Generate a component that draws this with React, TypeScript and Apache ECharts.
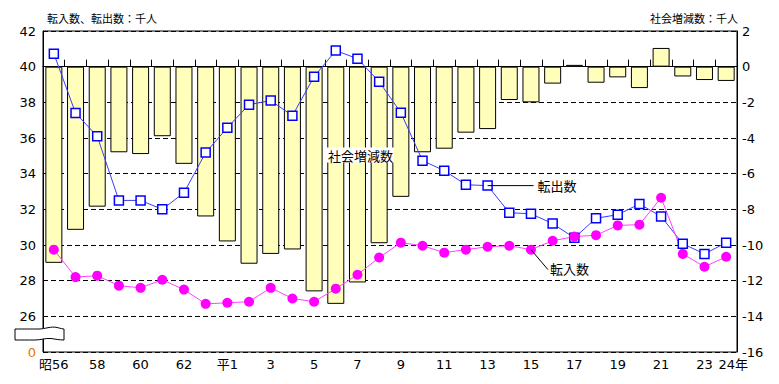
import React, { useEffect, useRef } from 'react';
import * as echarts from 'echarts';

// 年次（昭和56年〜平成24年）
const categories = [
  '昭56', '57', '58', '59', '60', '61', '62', '63',
  '平1', '2', '3', '4', '5', '6', '7', '8', '9', '10', '11', '12', '13', '14', '15', '16',
  '17', '18', '19', '20', '21', '22', '23', '24',
];
const lastLabelSuffix = '年';

// 社会増減数（千人）
const socialChange = [
  -11.0, -9.15, -7.85, -4.8, -4.9, -3.9, -5.45, -8.4,
  -9.8, -11.05, -10.5, -10.25, -12.6, -13.3, -12.1, -9.9, -7.3, -4.8, -4.6, -3.7, -3.5, -1.87, -2.0, -0.95,
  0.1, -0.9, -0.6, -1.2, 1.05, -0.55, -0.75, -0.8,
];
// 転出数（千人）
const moveOut = [
  40.73, 37.4, 36.1, 32.5, 32.5, 32.0, 32.93, 35.18,
  36.58, 37.87, 38.1, 37.25, 39.44, 40.9, 40.45, 39.16, 37.42, 34.73, 34.17, 33.38, 33.33, 31.81, 31.75, 31.2,
  30.4, 31.5, 31.7, 32.3, 31.6, 30.07, 29.5, 30.13,
];
// 転入数（千人）
const moveIn = [
  29.74, 28.2, 28.28, 27.72, 27.6, 28.05, 27.5, 26.7,
  26.76, 26.82, 27.6, 27.0, 26.82, 27.55, 28.33, 29.3, 30.13, 29.96, 29.57, 29.74, 29.9, 29.96, 29.74, 30.24,
  30.47, 30.55, 31.1, 31.14, 32.65, 29.5, 28.78, 29.34,
];

// 左軸（転入・転出）: 24 は省略記号の下で「0」と表示
const leftMin = 24;
const leftMax = 42;
const leftBreakLabel = '0';
// 右軸（社会増減）
const rightMin = -16;
const rightMax = 2;
const axisStep = 2;

const titleLeft = '転入数、転出数：千人';
const titleRight = '社会増減数：千人';
const noteSocial = '社会増減数';
const noteOut = '転出数';
const noteIn = '転入数';
const noteOutIndex = 20;
const noteInIndex = 22;

const NUM_FONT = '"DejaVu Sans", "Noto Sans CJK JP", sans-serif';
const JP_FONT = '"Noto Sans CJK JP", "DejaVu Sans", sans-serif';

echarts.graphic.registerShape(
  'axisBreak',
  (echarts.graphic as any).extendPath(
    'M0 3 C10 3 16 3 24 3 C30 3 36 0 42 1.5 C46 2.5 48 3 49 3 L49 14 C44 14 40 13 36 12.5 C30 12 26 14 20 14 C12 14 6 14 0 14 Z',
    {}
  )
);

export default function App() {
  const ref = useRef<HTMLDivElement>(null);

  useEffect(() => {
    if (!ref.current) return;
    const chart = echarts.init(ref.current, null, { renderer: 'svg' });
    const last = categories.length - 1;

    const option: any = {
      animation: false,
      backgroundColor: '#ffffff',
      grid: {
        left: 43,
        right: 42,
        top: 31,
        bottom: 32,
        show: true,
        borderColor: '#000',
        borderWidth: 1,
        backgroundColor: 'transparent',
      },
      xAxis: {
        type: 'category',
        data: categories,
        boundaryGap: true,
        axisLine: { lineStyle: { color: '#000', width: 1 } },
        axisTick: { show: true, inside: true, length: 7, interval: 0, lineStyle: { color: '#000' } },
        axisLabel: {
          interval: (i: number) => i % 2 === 0 || i === last,
          formatter: (v: string, i: number) => (i === last ? `{y|${v}${lastLabelSuffix}}` : v),
          rich: { y: { padding: [0, 0, 0, 14], fontSize: 13, fontFamily: NUM_FONT, color: '#000' } },
          color: '#000',
          fontSize: 13,
          fontFamily: NUM_FONT,
          margin: 6,
        },
      },
      yAxis: [
        {
          type: 'value',
          position: 'left',
          min: leftMin,
          max: leftMax,
          interval: axisStep,
          axisLine: { show: true, lineStyle: { color: '#000' } },
          axisTick: { show: false },
          splitLine: { show: false },
          axisLabel: {
            margin: 7,
            color: '#000',
            fontSize: 13,
            fontFamily: NUM_FONT,
            formatter: (v: number) => (v === leftMin ? `{o|${leftBreakLabel}}` : String(v)),
            rich: { o: { color: '#e07800', fontSize: 13, fontFamily: NUM_FONT } },
          },
        },
        {
          type: 'value',
          position: 'right',
          min: rightMin,
          max: rightMax,
          interval: axisStep,
          axisLine: { show: true, lineStyle: { color: '#000' } },
          axisTick: { show: false },
          splitLine: { show: true, lineStyle: { color: '#000', type: [5, 3], width: 1 } },
          axisLabel: { margin: 5, color: '#000', fontSize: 13, fontFamily: NUM_FONT },
        },
      ],
      series: [
        {
          name: noteSocial,
          type: 'bar',
          yAxisIndex: 1,
          data: socialChange,
          barWidth: 17,
          itemStyle: { color: '#ffffbb', borderColor: '#000', borderWidth: 1 },
        },
        {
          name: noteOut,
          type: 'line',
          yAxisIndex: 0,
          data: moveOut,
          symbol: 'rect',
          symbolSize: 9,
          showAllSymbol: true,
          itemStyle: { color: '#ffffff', borderColor: '#0000ff', borderWidth: 1.5 },
          lineStyle: { color: '#3b3bff', width: 1 },
        },
        {
          name: noteIn,
          type: 'line',
          yAxisIndex: 0,
          data: moveIn,
          symbol: 'circle',
          symbolSize: 10,
          showAllSymbol: true,
          itemStyle: { color: '#ff00ff' },
          lineStyle: { color: '#ff40ff', width: 1 },
        },
      ],
    };
    chart.setOption(option);

    const outPt = chart.convertToPixel({ seriesIndex: 1 }, [noteOutIndex, moveOut[noteOutIndex]]) as number[];
    const inPt = chart.convertToPixel({ seriesIndex: 2 }, [noteInIndex, moveIn[noteInIndex]]) as number[];

    chart.setOption({
      graphic: [
        {
          type: 'text',
          x: 47,
          y: 18,
          style: { text: titleLeft, font: `11px ${JP_FONT}`, fill: '#000', verticalAlign: 'middle' },
        },
        {
          type: 'text',
          x: 738,
          y: 18,
          style: { text: titleRight, font: `11px ${JP_FONT}`, fill: '#000', verticalAlign: 'middle', align: 'right' },
        },
        {
          type: 'text',
          x: 327,
          y: 155,
          z: 50,
          style: {
            text: noteSocial,
            font: `13px ${JP_FONT}`,
            fill: '#000',
            verticalAlign: 'middle',
            backgroundColor: '#ffffff',
            padding: [1, 1, 1, 1],
          },
        },
        {
          type: 'line',
          z: 50,
          shape: { x1: outPt[0], y1: outPt[1], x2: outPt[0] + 46, y2: outPt[1] },
          style: { stroke: '#000', lineWidth: 1 },
        },
        {
          type: 'text',
          x: outPt[0] + 50,
          y: outPt[1],
          z: 50,
          style: { text: noteOut, font: `13px ${JP_FONT}`, fill: '#000', verticalAlign: 'middle' },
        },
        {
          type: 'line',
          z: 50,
          shape: { x1: inPt[0], y1: inPt[1], x2: inPt[0] + 17, y2: inPt[1] + 20 },
          style: { stroke: '#000', lineWidth: 1 },
        },
        {
          type: 'text',
          x: inPt[0] + 19,
          y: inPt[1] + 19,
          z: 50,
          style: { text: noteIn, font: `13px ${JP_FONT}`, fill: '#000', verticalAlign: 'middle' },
        },
        {
          type: 'axisBreak',
          x: 15,
          y: 326,
          z: 100,
          style: { fill: '#ffffff', stroke: '#000', lineWidth: 1 },
        },
      ],
    });

    return () => chart.dispose();
  }, []);

  return (
    <div
      ref={ref}
      style={{ position: 'absolute', left: 0, top: 0, width: 779, height: 384 }}
    />
  );
}
